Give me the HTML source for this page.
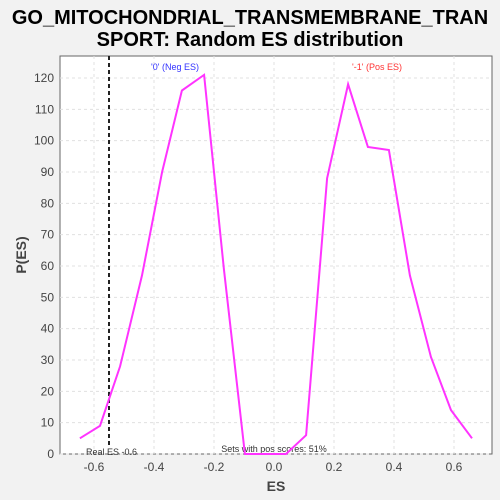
<!DOCTYPE html>
<html><head><meta charset="utf-8"><style>
body{margin:0;background:#f2f2f2;}
svg{display:block;font-family:"Liberation Sans","DejaVu Sans",sans-serif;}
</style></head><body>
<svg id="c" width="500" height="500">
<text x="250" y="24" text-anchor="middle" font-size="20" font-weight="bold" fill="#000">GO_MITOCHONDRIAL_TRANSMEMBRANE_TRAN</text>
<text x="250" y="46" text-anchor="middle" font-size="20" font-weight="bold" fill="#000">SPORT: Random ES distribution</text>
<rect x="60" y="56" width="432" height="398" fill="#fff" stroke="#666"/>
<g id="grid"></g><g id="ticks"></g>
<text x="276" y="491" text-anchor="middle" font-size="14" font-weight="bold" fill="#444">ES</text>
<text transform="translate(26,255) rotate(-90)" text-anchor="middle" font-size="14" font-weight="bold" fill="#444">P(ES)</text>
<text x="175" y="70" text-anchor="middle" font-size="9" fill="#3333ff">'0' (Neg ES)</text>
<text x="377" y="70" text-anchor="middle" font-size="9" fill="#ff3333">'-1' (Pos ES)</text>
<text x="86" y="455" font-size="9" fill="#333">Real ES -0.6</text>
<text x="274" y="452" text-anchor="middle" font-size="9" fill="#333">Sets with pos scores: 51%</text>
<g id="marks"></g>
</svg>
<script>
const esValues=[-0.647,-0.58,-0.513,-0.44,-0.373,-0.307,-0.233,-0.167,-0.097,-0.03,0.04,0.107,0.177,0.247,0.313,0.383,0.453,0.523,0.59,0.66];
const probValues=[5,9,28,57,90,116,121,59,0,0,0,6,88,118,98,97,57,31,14,5];
const xTicks=[-0.6,-0.4,-0.2,0.0,0.2,0.4,0.6];
const yTicks=[0,10,20,30,40,50,60,70,80,90,100,110,120];
const realES=-0.55;
const NS="http://www.w3.org/2000/svg";
const xs=v=>274+300*v, ys=v=>454-v*376/120;
function mk(t,a,p){const e=document.createElementNS(NS,t);for(const k in a)e.setAttribute(k,a[k]);p.appendChild(e);return e;}
const g=document.getElementById('grid'),tk=document.getElementById('ticks'),m=document.getElementById('marks');
xTicks.forEach(v=>{
 const l=mk('line',{x1:xs(v),x2:xs(v),y1:56,y2:454,stroke:'#e0e0e0','stroke-dasharray':'3,3'},g);
 
 
 const t=mk('text',{x:xs(v),y:471,'text-anchor':'middle','font-size':'12',fill:'#444'},tk);
 t.textContent=v.toFixed(1);
 
 
});
yTicks.forEach(v=>{
 const l=mk('line',{x1:60,x2:492,y1:ys(v),y2:ys(v),stroke:'#e0e0e0','stroke-dasharray':'3,3'},g);
 
 
 const t=mk('text',{x:54,y:ys(v)+4,'text-anchor':'end','font-size':'12',fill:'#444'},tk);
 t.textContent=v;
 
 
});
const rl=mk('line',{x1:xs(realES),x2:xs(realES),y1:56,y2:446,stroke:'#222','stroke-width':2,'stroke-dasharray':'4,3'},m);


const pl=mk('polyline',{points:esValues.map((v,i)=>xs(v)+','+ys(probValues[i])).join(' '),fill:'none',stroke:'#ff33ff','stroke-width':2},m);


</script>
</body></html>
